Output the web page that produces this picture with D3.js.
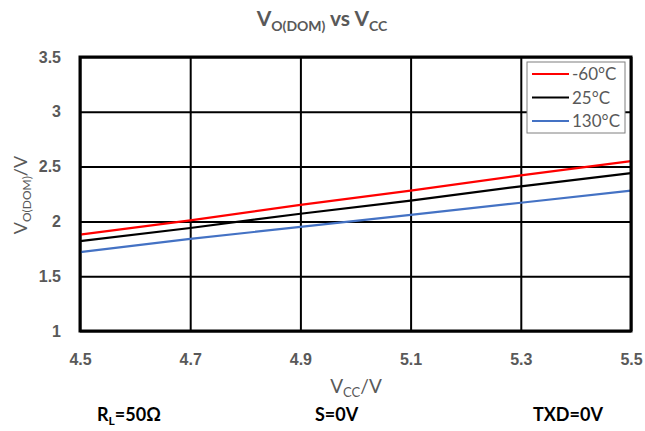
<!DOCTYPE html>
<html lang="en">
<head>
  <meta charset="UTF-8">
  <title>VO(DOM) vs VCC</title>
  <script src="https://d3js.org/d3.v7.min.js"></script>
  <style>
    body { margin: 0; background: #fff; }
    svg { font-family: Lato, "Noto Sans", sans-serif; }
  </style>
</head>
<body>
  <div id="chart"></div>
  <script>
    // supply voltage points and the dominant output voltage per temperature
    const vcc = [4.5, 4.7, 4.9, 5.1, 5.3, 5.5];
    const vMinus60 = [1.88, 2.01, 2.15, 2.28, 2.42, 2.55];
    const v25 = [1.82, 1.94, 2.07, 2.19, 2.32, 2.44];
    const v130 = [1.72, 1.84, 1.95, 2.06, 2.17, 2.28];
    const seriesNames = ['-60°C', '25°C', '130°C'];
    const seriesColors = ['#ff0000', '#000000', '#4472c4'];
    const xTicks = [4.5, 4.7, 4.9, 5.1, 5.3, 5.5];
    const yTicks = [1, 1.5, 2, 2.5, 3, 3.5];

    const W = 645, H = 431;
    const m = { left: 80, right: 14, top: 57, bottom: 100 };

    const svg = d3.select('#chart').append('svg')
      .attr('width', W).attr('height', H);

    const x = d3.scaleLinear().domain([4.5, 5.5]).range([m.left, W - m.right]);
    const y = d3.scaleLinear().domain([1, 3.5]).range([H - m.bottom, m.top]);

    // grid lines
    svg.append('g')
      .attr('transform', `translate(0,${H - m.bottom})`)
      .call(d3.axisBottom(x).tickValues(xTicks).tickSize(-(H - m.bottom - m.top)).tickFormat(''))
      .call(g => g.select('.domain').remove())
      .selectAll('line').attr('stroke', '#000').attr('stroke-width', 2);

    svg.append('g')
      .attr('transform', `translate(${m.left},0)`)
      .call(d3.axisLeft(y).tickValues(yTicks).tickSize(-(W - m.right - m.left)).tickFormat(''))
      .call(g => g.select('.domain').remove())
      .selectAll('line').attr('stroke', '#000').attr('stroke-width', 2);

    // tick labels
    svg.append('g')
      .attr('transform', `translate(0,${H - m.bottom + 20})`)
      .call(d3.axisBottom(x).tickValues(xTicks).tickSize(0).tickFormat(d3.format('.1f')))
      .call(g => g.select('.domain').remove())
      .selectAll('text')
      .attr('fill', '#595959').attr('font-size', 16).attr('font-weight', 'bold');

    svg.append('g')
      .attr('transform', `translate(${m.left - 16},0)`)
      .call(d3.axisLeft(y).tickValues(yTicks).tickSize(0).tickFormat(d3.format('')))
      .call(g => g.select('.domain').remove())
      .selectAll('text')
      .attr('fill', '#595959').attr('font-size', 16).attr('font-weight', 'bold');

    // series
    const data = [vMinus60, v25, v130];
    const line = d3.line().x((d, i) => x(vcc[i])).y(d => y(d));
    svg.append('g').selectAll('path')
      .data(data)
      .enter().append('path')
      .attr('d', line)
      .attr('fill', 'none')
      .attr('stroke', (d, i) => seriesColors[i])
      .attr('stroke-width', 2.2);

    // plot border
    svg.append('rect')
      .attr('x', m.left).attr('y', m.top)
      .attr('width', W - m.right - m.left).attr('height', H - m.bottom - m.top)
      .attr('fill', 'none').attr('stroke', '#000').attr('stroke-width', 3);

    // legend
    const lg = svg.append('g').attr('transform', 'translate(527,62)');
    lg.append('rect').attr('width', 98).attr('height', 71)
      .attr('fill', '#fff').attr('stroke', '#7f7f7f').attr('stroke-width', 1);
    seriesNames.forEach((name, i) => {
      const ly = 12 + i * 23.5;
      lg.append('line').attr('x1', 5).attr('x2', 42).attr('y1', ly).attr('y2', ly)
        .attr('stroke', seriesColors[i]).attr('stroke-width', 2.2);
      lg.append('text').attr('x', 45).attr('y', ly + 6)
        .attr('fill', '#595959').attr('font-size', 17).text(name);
    });

    // title
    const title = svg.append('text').attr('x', 322).attr('y', 26)
      .attr('text-anchor', 'middle').attr('fill', '#595959')
      .attr('font-size', 21).attr('font-weight', 'bold');
    title.append('tspan').text('V');
    title.append('tspan').attr('font-size', 14).attr('dy', 5).text('O(DOM)');
    title.append('tspan').attr('dy', -5).text(' vs V');
    title.append('tspan').attr('font-size', 14).attr('dy', 5).text('CC');

    // axis titles
    const xl = svg.append('text').attr('x', 356).attr('y', 393)
      .attr('text-anchor', 'middle').attr('fill', '#595959').attr('font-size', 19);
    xl.append('tspan').text('V');
    xl.append('tspan').attr('font-size', 13).attr('dy', 4).text('CC');
    xl.append('tspan').attr('dy', -4).text('/V');

    const yl = svg.append('text')
      .attr('transform', 'translate(27,195) rotate(-90)')
      .attr('text-anchor', 'middle').attr('fill', '#595959').attr('font-size', 18);
    yl.append('tspan').text('V');
    yl.append('tspan').attr('font-size', 12).attr('dy', 4).text('O(DOM)');
    yl.append('tspan').attr('dy', -4).text('/V');

    // test conditions
    const cond = svg.append('g').attr('font-size', 18).attr('font-weight', 'bold').attr('fill', '#000');
    const rl = cond.append('text').attr('x', 97).attr('y', 421);
    rl.append('tspan').text('R');
    rl.append('tspan').attr('font-size', 12).attr('dy', 4).text('L');
    rl.append('tspan').attr('dy', -4).text('=50Ω');
    cond.append('text').attr('x', 315).attr('y', 421).text('S=0V');
    cond.append('text').attr('x', 533).attr('y', 421).text('TXD=0V');
  </script>
</body>
</html>
